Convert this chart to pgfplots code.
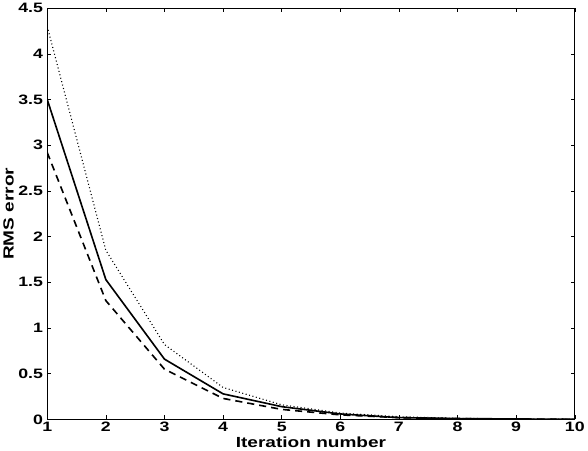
\documentclass[border=0pt]{standalone}
\usepackage{fontspec}
\setmainfont{Liberation Sans}[FakeStretch=1.3]
\usepackage{pgfplots}
\pgfplotsset{compat=1.18}
\begin{document}
\begin{tikzpicture}
\begin{axis}[
  scale only axis,
  width=522pt, height=407pt,
  xmin=1, xmax=10, ymin=0, ymax=4.5,
  xtick={1,...,10},
  ytick={0,0.5,...,4.5},
  tick align=inside,
  major tick length=4pt,
  tick style={black, line width=0.5pt},
  axis line style={line width=0.8pt},
  /pgf/number format/assume math mode=true,
  ticklabel style={font=\fontsize{13.5}{15}\selectfont\bfseries},
  yticklabel style={/pgf/number format/fixed, inner xsep=4pt},
  xticklabel style={inner ysep=2pt},
  label style={font=\fontsize{14.5}{16}\selectfont\bfseries},
  xlabel={Iteration number},
  ylabel={RMS error},
  xlabel style={inner ysep=3pt},
  ylabel style={yshift=-3pt},
]
\addplot[black, line width=1.6pt] coordinates {
(1,3.5) (2,1.53) (3,0.66) (4,0.28) (5,0.14) (6,0.06) (7,0.02) (8,0.01) (9,0.005) (10,0.002)};
\addplot[black, line width=1.6pt, dashed, dash pattern=on 7pt off 5pt] coordinates {
(1,2.92) (2,1.3) (3,0.55) (4,0.23) (5,0.11) (6,0.05) (7,0.02) (8,0.008) (9,0.004) (10,0.001)};
\addplot[black, line width=1.1pt, dotted, dash pattern=on 1pt off 2.5pt] coordinates {
(1,4.3) (2,1.85) (3,0.82) (4,0.35) (5,0.16) (6,0.07) (7,0.03) (8,0.012) (9,0.006) (10,0.002)};
\end{axis}
\end{tikzpicture}
\end{document}
